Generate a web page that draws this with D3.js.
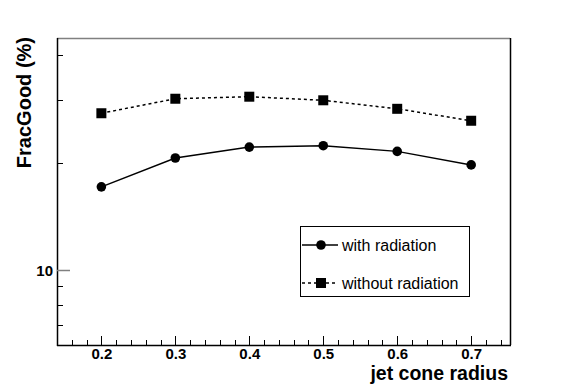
<!DOCTYPE html>
<html>
<head>
<meta charset="utf-8">
<script src="https://cdn.jsdelivr.net/npm/d3@7"></script>
<style>
body{margin:0;background:#fff;}
svg{display:block;}
text{font-family:"Liberation Sans",Arial,Helvetica,sans-serif;}
</style>
</head>
<body>
<svg id="c" width="567" height="384"></svg>
<script>
const radii = [0.2, 0.3, 0.4, 0.5, 0.6, 0.7];
const withRadiation = [17.1, 20.6, 22.1, 22.3, 21.5, 19.7];
const withoutRadiation = [27.5, 30.2, 30.6, 29.9, 28.3, 26.2];
const xTicks = [0.2, 0.3, 0.4, 0.5, 0.6, 0.7];
const yLabeledTicks = [10];
const yMinorTicks = [7, 8, 9, 20, 30, 40];
const seriesNames = ["with radiation", "without radiation"];

const svg = d3.select("#c");
const L = 57, R = 510, T = 38, B = 345;
const x = d3.scaleLinear().domain([0.14, 0.7525]).range([L, R]);
const y = d3.scaleLog().domain([6.16, 44.7]).range([B, T]);

// frame
svg.append("line").attr("x1",L).attr("x2",R).attr("y1",T+0.5).attr("y2",T+0.5).attr("stroke","#808080").attr("stroke-width",1.5);
svg.append("line").attr("x1",R+0.5).attr("x2",R+0.5).attr("y1",T).attr("y2",B).attr("stroke","#000").attr("stroke-width",1.5);

// x axis
const xMinor = d3.range(0.16, 0.751, 0.02).filter(v => !xTicks.some(t => Math.abs(t - v) < 1e-6));
const xAxis = d3.axisBottom(x).tickValues(xTicks).tickFormat(d3.format(".1f")).tickSize(0).tickPadding(0);
const gx = svg.append("g").attr("transform",`translate(0,${B})`).call(xAxis);
gx.select(".domain").remove();
gx.selectAll("text").attr("y",14).attr("dy","0").attr("font-size","15px").attr("font-weight","bold").attr("fill","#000");
svg.append("line").attr("x1",L).attr("x2",R+1).attr("y1",B+0.5).attr("y2",B+0.5).attr("stroke","#000").attr("stroke-width",1.5);
svg.selectAll(".xmaj").data(xTicks).join("line")
  .attr("x1",d=>Math.round(x(d))+0.5).attr("x2",d=>Math.round(x(d))+0.5)
  .attr("y1",B).attr("y2",B-9).attr("stroke","#000");
svg.selectAll(".xmin").data(xMinor).join("line")
  .attr("x1",d=>Math.round(x(d))+0.5).attr("x2",d=>Math.round(x(d))+0.5)
  .attr("y1",B).attr("y2",B-5).attr("stroke","#000");

// y axis
svg.append("line").attr("x1",L+0.5).attr("x2",L+0.5).attr("y1",T).attr("y2",B+1).attr("stroke","#000").attr("stroke-width",1.5);
const yAxis = d3.axisLeft(y).tickValues(yLabeledTicks).tickFormat(d3.format("d")).tickSize(0).tickPadding(0);
const gy = svg.append("g").attr("transform",`translate(${L},0)`).call(yAxis);
gy.select(".domain").remove();
gy.selectAll("text").attr("x",-4).attr("dy","0.36em").attr("font-size","15px").attr("font-weight","bold").attr("fill","#000");
svg.selectAll(".ymaj").data(yLabeledTicks).join("line")
  .attr("x1",L).attr("x2",L+13).attr("y1",d=>Math.round(y(d))+0.5).attr("y2",d=>Math.round(y(d))+0.5).attr("stroke","#808080").attr("stroke-width",1.5);
svg.selectAll(".ymin").data(yMinorTicks).join("line")
  .attr("x1",L).attr("x2",L+6).attr("y1",d=>Math.round(y(d))+0.5).attr("y2",d=>Math.round(y(d))+0.5).attr("stroke","#000");

// titles
svg.append("text").attr("x",508).attr("y",380).attr("text-anchor","end")
  .attr("font-size","19.5px").attr("font-weight","bold").text("jet cone radius");
svg.append("text").attr("transform","translate(31,37) rotate(-90)").attr("text-anchor","end")
  .attr("font-size","20px").attr("font-weight","bold").text("FracGood (%)");

// series
const line = d3.line().x((d,i)=>x(radii[i])).y(d=>y(d));
svg.append("path").attr("d",line(withRadiation)).attr("fill","none").attr("stroke","#000").attr("stroke-width",1.5);
svg.append("path").attr("d",line(withoutRadiation)).attr("fill","none").attr("stroke","#000").attr("stroke-width",1.5).attr("stroke-dasharray","3,3");
svg.selectAll(".circ").data(withRadiation).join("circle")
  .attr("cx",(d,i)=>x(radii[i])).attr("cy",d=>y(d)).attr("r",4.8).attr("fill","#000");
svg.selectAll(".sq").data(withoutRadiation).join("rect")
  .attr("x",(d,i)=>x(radii[i])-5).attr("y",d=>y(d)-5).attr("width",10).attr("height",10).attr("fill","#000");

// legend
const lg = svg.append("g");
lg.append("rect").attr("x",300.5).attr("y",226.5).attr("width",169).attr("height",70).attr("fill","#fff").attr("stroke","#000");
const ly = [245, 283];
lg.append("line").attr("x1",302).attr("x2",338).attr("y1",ly[0]).attr("y2",ly[0]).attr("stroke","#000").attr("stroke-width",1.5);
lg.append("circle").attr("cx",321).attr("cy",ly[0]).attr("r",4.8).attr("fill","#000");
lg.append("line").attr("x1",302).attr("x2",338).attr("y1",ly[1]).attr("y2",ly[1]).attr("stroke","#000").attr("stroke-width",1.5).attr("stroke-dasharray","3,3");
lg.append("rect").attr("x",316).attr("y",ly[1]-5).attr("width",10).attr("height",10).attr("fill","#000");
lg.selectAll(".lt").data(seriesNames).join("text")
  .attr("x",342).attr("y",(d,i)=>ly[i]).attr("dy","0.36em").attr("font-size","16px").attr("fill","#000").text(d=>d);
</script>
</body>
</html>
